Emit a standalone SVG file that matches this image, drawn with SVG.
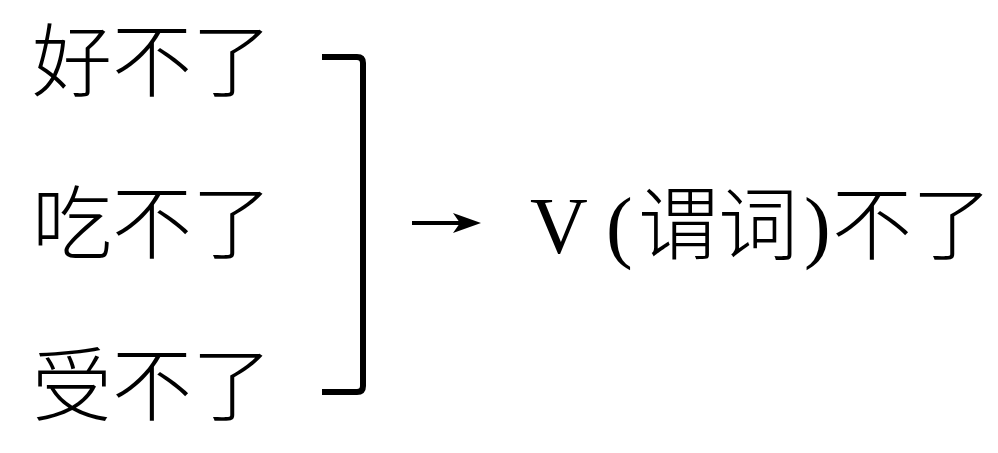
<svg xmlns="http://www.w3.org/2000/svg" width="998" height="453" viewBox="0 0 998 453">
<defs>
<style>
.cjk{font-family:"Noto Sans CJK SC","Noto Sans",sans-serif;font-size:80px;fill:#000;font-weight:300}
.lat{font-family:"Liberation Serif",serif;font-size:80px;fill:#000}
.ln{fill:none;stroke:#000;stroke-width:6;stroke-linecap:butt;stroke-linejoin:round}
</style>
<marker id="ah" markerWidth="10" markerHeight="10" refX="9" refY="5" orient="auto" markerUnits="userSpaceOnUse" viewBox="0 0 10 10">
<path d="M0,0 L10,5 L0,10 L3,5 Z" fill="#000"/>
</marker>
</defs>
<rect width="998" height="453" fill="#fff"/>
<g id="n1"><text class="cjk" x="32" y="90">好不了</text></g>
<g id="n2"><text class="cjk" x="32" y="252">吃不了</text></g>
<g id="n3"><text class="cjk" x="32" y="414">受不了</text></g>
<g id="result"><text y="253"><tspan class="lat" x="530">V</tspan><tspan class="lat" x="606">(</tspan><tspan class="cjk" x="638">谓词</tspan><tspan class="lat" x="804">)</tspan><tspan class="cjk" x="832">不了</tspan></text></g>
<g id="connectors">
<path class="ln" d="M322,57 L357,57 Q363,57 363,63 L363,386 Q363,392 357,392 L322,392"/>
<line x1="412" y1="223" x2="462" y2="223" stroke="#000" stroke-width="4"/>
<path d="M453,213 L481,223 L453,233 L460,223 Z" fill="#000"/>
</g>
</svg>
